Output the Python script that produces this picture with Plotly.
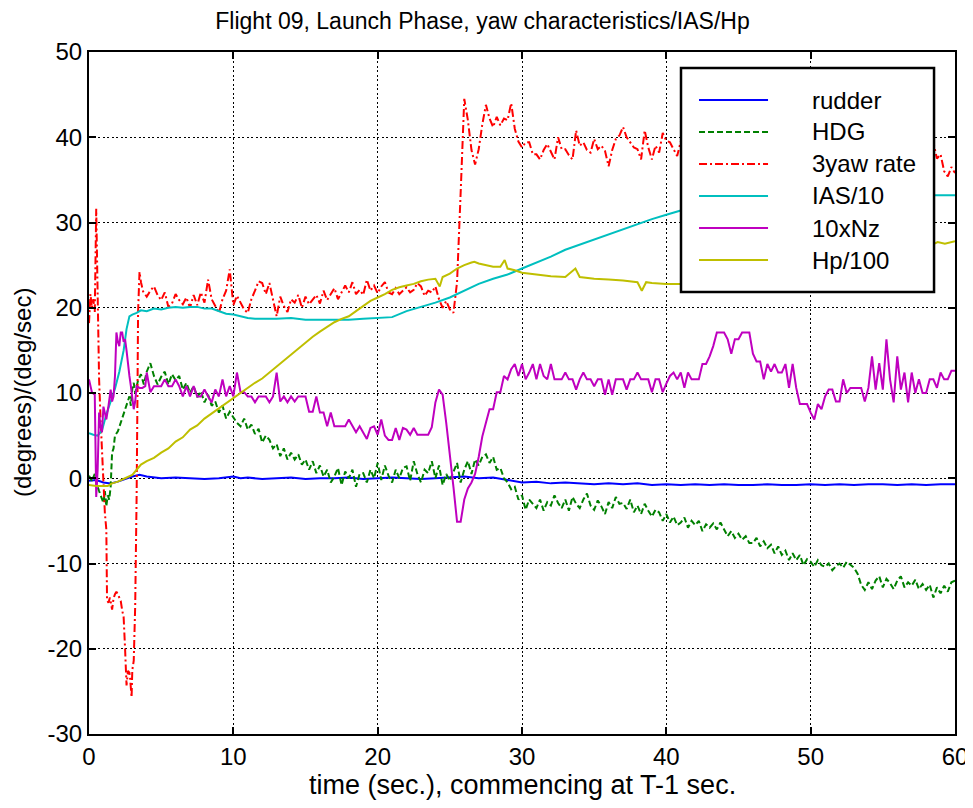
import plotly.graph_objects as go

# ---------------- data ----------------
x_ticks = [0, 10, 20, 30, 40, 50, 60]
y_ticks = [-30, -20, -10, 0, 10, 20, 30, 40, 50]
legend_names = ["rudder", "HDG", "3yaw rate", "IAS/10", "10xNz", "Hp/100"]

rudder_t = [0, 0.5, 1, 1.5, 2, 2.5, 3, 3.5, 4, 5, 6, 7, 8, 9, 10, 10.5, 11, 12, 13, 14, 15, 16, 17, 18, 19, 20,
            21, 22, 23, 24, 25, 26, 27, 28, 29, 30, 31, 32, 33, 34, 35, 36, 37, 38, 39, 40, 41, 42, 43, 44, 45,
            46, 47, 48, 49, 50, 51, 52, 53, 54, 55, 56, 57, 58, 59, 60]
rudder_v = [-0.3, -0.2, -0.5, -0.6, -0.4, -0.1, 0.2, 0.4, 0.2, 0.0, 0.1, 0.0, -0.1, 0.0, 0.2, 0.0, 0.1, -0.1, 0.0,
            0.1, -0.1, 0.0, 0.0, 0.1, -0.1, 0.0, 0.1, 0.0, -0.1, 0.0, 0.1, 0.2, 0.0, 0.1, -0.2, -0.5, -0.4, -0.6,
            -0.5, -0.6, -0.7, -0.6, -0.7, -0.6, -0.8, -0.7, -0.8, -0.7, -0.8, -0.7, -0.8, -0.8, -0.7, -0.8, -0.8,
            -0.7, -0.8, -0.7, -0.8, -0.7, -0.7, -0.8, -0.7, -0.8, -0.7, -0.7]

hdg_t_early = [0.0, 0.2, 0.4, 0.5, 0.7, 0.9, 1.0, 1.1, 1.2, 1.3, 1.4, 1.5, 1.6, 1.7, 1.8, 2.0, 2.2, 2.3, 2.5, 2.7,
               2.8, 2.9, 3.0, 3.1, 3.2, 3.4, 3.6, 3.8]
hdg_v_early = [0.3, -0.3, 0.5, -0.5, -1.5, -2.5, -2.9, -1.5, -3.3, -2.0, -2.5, -1.0, 3.0, 3.5, 5.0, 5.5, 6.5, 6.9,
               8.0, 9.0, 9.6, 8.5, 10.5, 11.2, 10.0, 11.5, 12.2, 11.0]
hdg_rows = [  # one row per second (4 ... 59), samples every 0.25 s
    [12.5, 13.5, 12.0, 11.0], [11.9, 12.5, 11.0, 12.2], [11.5, 12.0, 10.4, 11.2], [10.0, 10.8, 9.5, 10.2],
    [8.9, 9.8, 8.5, 9.0], [7.7, 8.5, 7.0, 7.8], [7.2, 6.5, 6.1, 7.0], [5.7, 6.3, 5.2, 5.8],
    [4.2, 5.0, 4.5, 3.5], [4.0, 2.6, 3.5, 2.2], [3.0, 2.2, 2.8, 1.6], [2.2, 1.0, 2.0, 0.6],
    [1.5, 0.2, 1.0, -0.5], [0.2, 1.2, -0.8, 0.8], [0.0, 1.0, -1.0, 0.5], [0.6, -0.5, 1.0, 0.0],
    [1.8, -0.2, 1.5, 0.3], [-0.5, 1.0, 0.0, 1.2], [1.4, -0.3, 2.0, 0.5], [-0.5, 1.0, 0.6, 2.0],
    [0.0, 1.5, -0.8, 0.5], [-0.3, 0.8, 1.8, -0.5], [1.0, 2.0, 0.5, 2.2], [1.5, 2.5, 2.8, 1.8],
    [2.5, 1.0, 1.2, 0.0], [-0.5, -1.3, -1.0, -2.5], [-2.0, -3.7, -2.5, -3.0], [-3.5, -2.5, -3.8, -2.8],
    [-3.2, -2.0, -2.9, -3.5], [-2.5, -3.8, -2.2, -3.0], [-3.5, -2.5, -1.8, -3.2], [-3.7, -2.6, -3.3, -4.2],
    [-2.8, -3.5, -2.2, -3.0], [-2.9, -3.6, -2.5, -4.0], [-3.2, -4.2, -3.0, -3.8], [-4.5, -3.7, -4.0, -5.0],
    [-4.2, -5.2, -4.5, -5.5], [-5.2, -4.6, -5.8, -5.0], [-5.5, -5.0, -6.2, -5.4], [-5.8, -5.3, -6.0, -5.2],
    [-6.0, -6.8, -6.2, -7.0], [-6.5, -7.2, -6.8, -7.6], [-7.6, -7.0, -8.0, -7.4], [-8.2, -7.8, -8.8, -8.0],
    [-9.0, -8.5, -9.6, -8.8], [-9.6, -9.0, -10.2, -9.5], [-9.8, -10.4, -9.6, -10.2], [-10.4, -10.0, -10.8, -10.3],
    [-10.0, -10.5, -9.8, -10.2], [-10.5, -11.2, -12.5, -13.1], [-12.2, -13.0, -12.0, -11.5], [-12.8, -11.8, -12.3, -13.0],
    [-12.0, -11.5, -12.8, -12.2], [-12.6, -11.9, -13.0, -12.4], [-13.1, -12.5, -14.0, -12.8], [-13.5, -12.6, -13.3, -12.2],
]
hdg_last = -12.0

yaw_t_early = [0.0, 0.1, 0.2, 0.3, 0.4, 0.5, 0.6, 0.7, 0.8, 0.9, 1.0, 1.1, 1.2, 1.25, 1.35, 1.45, 1.6, 1.7, 1.8,
               1.9, 2.0, 2.1, 2.2, 2.3, 2.4, 2.5, 2.55, 2.6, 2.7, 2.8, 2.85, 2.95, 3.0, 3.1, 3.2, 3.25, 3.3,
               3.35, 3.4, 3.5, 3.6, 3.75, 3.9]
yaw_v_early = [18.2, 21.6, 20.0, 21.0, 19.5, 31.6, 21.6, 11.6, 7.0, 3.0, 0.5, -4.1, -6.0, -14.3, -14.6, -14.0,
               -15.4, -14.1, -13.6, -13.3, -13.6, -14.1, -14.4, -15.5, -16.3, -20.0, -22.9, -24.3, -22.6, -22.8,
               -23.5, -25.7, -22.5, -21.4, -15.0, -10.0, -2.0, 8.0, 19.5, 24.2, 23.0, 21.9, 21.5]
yaw_rows = [  # one row per second (4 ... 59), samples every 0.25 s
    [21.3, 22.0, 22.5, 21.5], [20.9, 21.8, 20.1, 20.5], [21.6, 20.9, 20.4, 21.2], [20.0, 21.5, 20.3, 21.8],
    [20.6, 23.3, 21.0, 20.2], [19.4, 21.0, 22.0, 24.5], [20.3, 21.4, 20.6, 19.8], [19.4, 21.0, 22.0, 23.1],
    [22.9, 21.6, 22.9, 21.0], [19.0, 21.3, 20.2, 19.5], [21.0, 20.6, 21.5, 20.0], [21.3, 20.4, 21.0, 21.5],
    [20.5, 22.0, 20.9, 21.6], [22.3, 21.0, 21.8, 22.6], [21.8, 23.0, 21.6, 22.1], [21.5, 23.3, 22.0, 22.6],
    [21.7, 22.5, 23.0, 21.8], [21.6, 22.3, 21.6, 22.0], [22.4, 21.8, 22.1, 22.9], [22.5, 21.4, 22.0, 21.8],
    [22.5, 21.0, 20.0, 20.8], [19.8, 19.4, 23.0, 33.5], [44.5, 42.0, 38.5, 36.8], [38.6, 41.5, 43.8, 42.2],
    [41.2, 42.4, 41.4, 42.2], [42.0, 44.0, 41.0, 39.5], [38.8, 39.4, 39.4, 38.0], [38.0, 37.4, 38.5, 39.2],
    [38.2, 37.4, 40.0, 38.6], [38.6, 37.9, 37.4, 40.8], [39.0, 39.4, 38.5, 38.2], [39.8, 38.6, 39.0, 38.4],
    [36.6, 38.5, 39.8, 40.2], [41.2, 40.0, 39.4, 38.8], [38.6, 37.4, 40.8, 38.8], [37.4, 39.0, 38.2, 40.5],
    [39.6, 39.4, 38.6, 37.8], [39.5, 38.5, 40.0, 39.0], [38.2, 39.6, 38.8, 40.1], [39.2, 38.0, 39.5, 38.7],
    [40.0, 38.9, 39.3, 38.1], [39.4, 40.2, 38.6, 39.1], [38.3, 39.7, 38.9, 40.0], [39.0, 38.2, 39.6, 38.8],
    [39.9, 38.5, 39.2, 38.0], [38.8, 39.5, 38.3, 39.4], [38.6, 39.8, 38.1, 39.0], [39.5, 38.4, 39.9, 38.7],
    [38.9, 39.6, 38.2, 39.3], [39.8, 38.6, 39.4, 38.5], [39.2, 40.0, 38.7, 39.5], [38.4, 39.3, 38.8, 39.9],
    [39.0, 38.3, 39.7, 38.6], [39.4, 38.9, 40.1, 39.2], [38.5, 39.0, 39.4, 37.5], [38.0, 36.0, 35.4, 36.5],
]
yaw_last = 35.8

ias_t = [0, 0.3, 0.6, 0.9, 1.2, 1.5, 1.8, 2.1, 2.4, 2.6, 2.8, 3.0, 3.3, 3.6, 4, 4.5, 5, 5.5, 6, 6.5, 7, 7.5, 8,
         8.5, 9, 9.5, 10, 10.5, 11, 11.5, 12, 13, 14, 15, 16, 17, 18, 19, 20, 21, 22, 23, 24, 25, 26, 27, 28,
         29, 30, 31, 32, 33, 34, 35, 36, 37, 38, 39, 40, 41, 42, 43, 44, 45, 46, 48, 50, 52, 54, 56, 58, 60]
ias_v = [5.3, 5.1, 5.0, 5.6, 7.5, 9.0, 10.5, 12.5, 15.0, 17.5, 19.0, 19.2, 19.4, 19.7, 19.6, 19.9, 19.8, 20.0,
         20.1, 20.0, 20.1, 20.1, 19.9, 19.9, 19.6, 19.3, 19.2, 19.0, 18.8, 18.7, 18.7, 18.7, 18.8, 18.6, 18.6,
         18.6, 18.6, 18.7, 18.8, 18.9, 19.6, 20.1, 20.6, 21.2, 22.0, 22.8, 23.4, 23.9, 24.6, 25.3, 26.0, 26.8,
         27.4, 28.0, 28.6, 29.2, 29.8, 30.4, 30.9, 31.4, 31.9, 32.3, 32.7, 33.0, 33.2, 33.2, 33.2, 33.2, 33.2,
         33.2, 33.2, 33.2]

nz_t_early = [0.0, 0.1, 0.2, 0.4, 0.5, 0.6, 0.7, 0.8, 0.9, 1.0, 1.1, 1.2, 1.35, 1.5, 1.6, 1.7, 1.8, 1.9, 2.0,
              2.1, 2.2, 2.3, 2.4, 2.5, 2.6, 2.7, 2.8, 2.9, 3.0, 3.1, 3.2, 3.3, 3.5, 3.7, 3.9]
nz_v_early = [11.6, 11.0, 10.1, 9.8, -2.2, 1.0, 7.7, 6.0, 5.4, 8.4, 7.5, 6.9, 8.5, 10.4, 9.0, 9.6, 12.0, 17.1,
              16.0, 15.5, 17.1, 17.1, 16.0, 16.3, 15.0, 13.1, 12.0, 10.8, 9.5, 8.1, 9.0, 10.8, 10.6, 10.6, 10.8]
nz_rows = [  # one row per second (4 ... 59), samples every 0.25 s
    [12.4, 10.1, 10.8, 10.8], [10.8, 11.6, 10.8, 10.8], [11.6, 10.8, 9.6, 10.8], [9.6, 10.8, 9.6, 9.6],
    [10.4, 9.6, 8.9, 10.4], [9.6, 11.6, 9.6, 10.8], [9.6, 12.4, 10.1, 10.1], [9.6, 9.6, 8.9, 9.6],
    [9.6, 9.6, 8.9, 9.6], [12.4, 9.0, 9.6, 8.9], [9.6, 9.0, 9.6, 9.6], [9.6, 7.8, 7.8, 9.6],
    [7.7, 7.7, 6.1, 7.7], [6.1, 6.1, 6.1, 6.1], [6.9, 6.1, 5.4, 6.1], [5.4, 4.6, 5.9, 6.1],
    [5.1, 6.9, 5.0, 4.5], [4.5, 5.9, 4.5, 5.9], [5.7, 5.1, 5.9, 5.1], [5.1, 5.1, 5.1, 6.0],
    [8.9, 10.4, 9.8, 6.5], [3.0, -1.0, -5.1, -5.1], [-2.5, -1.2, -0.5, 0.5], [2.5, 4.9, 6.5, 8.1],
    [8.1, 10.1, 10.1, 12.0], [11.6, 12.8, 13.4, 12.0], [13.4, 11.6, 12.4, 13.4], [11.6, 13.4, 12.0, 11.6],
    [13.4, 11.6, 11.6, 11.6], [12.4, 11.6, 11.6, 10.4], [11.6, 12.4, 11.6, 11.6], [10.8, 11.6, 11.6, 9.8],
    [11.6, 9.8, 11.6, 11.6], [11.6, 10.4, 11.6, 11.6], [12.4, 11.6, 11.6, 11.6], [10.1, 11.6, 11.6, 10.1],
    [11.1, 12.0, 12.4, 11.6], [12.4, 10.6, 12.4, 11.6], [11.6, 11.6, 13.4, 13.4], [14.3, 15.5, 17.1, 17.1],
    [17.1, 16.3, 14.6, 16.3], [16.3, 17.1, 17.1, 17.1], [14.6, 13.7, 13.7, 11.6], [13.4, 12.5, 13.4, 12.4],
    [12.4, 13.4, 10.6, 13.4], [10.6, 8.7, 8.7, 8.7], [7.7, 6.9, 8.7, 8.1], [9.6, 10.4, 10.4, 9.0],
    [9.0, 11.6, 10.0, 10.6], [10.6, 10.6, 10.6, 9.0], [10.6, 14.3, 10.4, 13.5], [10.4, 16.3, 11.6, 8.9],
    [14.3, 10.4, 12.4, 8.9], [12.4, 10.0, 11.6, 10.0], [10.0, 11.6, 11.6, 10.6], [12.4, 11.6, 11.6, 12.6],
]
nz_last = 12.6

hp_t = [0, 0.5, 1.0, 1.3, 1.6, 2.0, 2.5, 3.0, 3.3, 3.6, 4.0, 4.5, 5, 5.5, 6, 6.5, 7, 7.5, 8, 8.5, 9, 9.5, 10,
        10.5, 11, 11.5, 12, 12.5, 13, 13.5, 14, 14.5, 15, 15.5, 16, 16.5, 17, 17.5, 18, 18.5, 19, 19.5, 20,
        20.5, 21, 21.5, 22, 22.5, 23, 23.5, 24, 24.3, 24.5, 25, 25.5, 26, 26.5, 26.7, 27, 27.5, 28, 28.5, 28.8,
        29, 29.5, 30, 31, 32, 33, 33.7, 34, 35, 36, 37, 38, 38.3, 38.6, 39, 40, 41, 43, 45, 47, 49, 51, 53, 55,
        57, 58.3, 58.8, 59.3, 60]
hp_v = [-0.8, -0.9, -0.9, -0.9, -0.6, -0.4, 0.0, 0.4, 1.0, 1.6, 2.0, 2.4, 3.0, 3.5, 4.3, 4.8, 5.7, 6.2, 7.0,
        7.6, 8.2, 8.8, 9.3, 10.0, 10.6, 11.2, 11.7, 12.4, 13.2, 13.8, 14.5, 15.2, 15.9, 16.6, 17.2, 17.8, 18.3,
        18.7, 19.0, 19.6, 20.2, 20.8, 21.2, 21.6, 22.1, 22.4, 22.6, 22.8, 23.1, 23.3, 23.4, 22.5, 23.6, 24.0,
        24.6, 25.0, 25.3, 25.4, 25.2, 25.0, 24.8, 24.8, 25.6, 24.6, 24.4, 24.1, 23.9, 23.7, 23.6, 24.6, 23.6,
        23.4, 23.3, 23.2, 23.0, 22.0, 23.0, 22.9, 22.8, 22.8, 22.9, 23.1, 23.5, 24.1, 24.8, 25.5, 26.2, 26.9,
        27.3, 27.7, 27.5, 27.8]


def assemble(t_early, v_early, rows, last, start=4, step=0.25):
    t, v = list(t_early), list(v_early)
    for i, row in enumerate(rows):
        for j, val in enumerate(row):
            t.append(start + i + j * step)
            v.append(val)
    t.append(start + len(rows))
    v.append(last)
    return t, v


hdg_t, hdg_v = assemble(hdg_t_early, hdg_v_early, hdg_rows, hdg_last)
yaw_t, yaw_v = assemble(yaw_t_early, yaw_v_early, yaw_rows, yaw_last)
nz_t, nz_v = assemble(nz_t_early, nz_v_early, nz_rows, nz_last)

# ---------------- styling ----------------
FONT = "Liberation Sans, Arial, Helvetica, sans-serif"
colors = ["#0000FF", "#008000", "#FF0000", "#00BFBF", "#BF00BF", "#BFBF00"]
dashes = ["solid", "6px,3px", "8px,3px,2px,3px", "solid", "solid", "solid"]
series = [(rudder_t, rudder_v), (hdg_t, hdg_v), (yaw_t, yaw_v), (ias_t, ias_v), (nz_t, nz_v), (hp_t, hp_v)]

fig = go.Figure()
for (t, v), name, c, d in zip(series, legend_names, colors, dashes):
    fig.add_trace(go.Scatter(x=t, y=v, mode="lines", name=name, showlegend=False,
                             line=dict(color=c, width=2, dash=d)))

axis_common = dict(showline=True, linecolor="black", linewidth=2, mirror="ticks", ticks="inside",
                   ticklen=7, tickwidth=2, tickcolor="black", showgrid=True, gridcolor="black",
                   gridwidth=1.2, griddash="2px,2.5px", zeroline=False, automargin=False,
                   tickfont=dict(family=FONT, size=24, color="black"))

fig.update_xaxes(range=[0, 60], tickvals=x_ticks, ticktext=[str(v) for v in x_ticks], **axis_common)
fig.update_yaxes(range=[-30, 50], tickvals=y_ticks, ticktext=[str(v) for v in y_ticks], **axis_common)

# legend box (MATLAB style) drawn in paper coordinates
shapes = [dict(type="rect", xref="paper", yref="paper", x0=0.6836, x1=0.9758, y0=0.6481, y1=0.9765,
               fillcolor="white", line=dict(color="black", width=2.5), layer="above")]
annotations = []
row_y = [0.9296, 0.8827, 0.8358, 0.7889, 0.7419, 0.6950]
for name, c, d, yy in zip(legend_names, colors, dashes, row_y):
    shapes.append(dict(type="line", xref="paper", yref="paper", x0=0.7044, x1=0.7841, y0=yy, y1=yy,
                       line=dict(color=c, width=2, dash=d), layer="above"))
    annotations.append(dict(xref="paper", yref="paper", x=0.8326, y=yy, text=name, showarrow=False,
                            xanchor="left", yanchor="middle", font=dict(family=FONT, size=24, color="black")))

annotations.append(dict(xref="paper", yref="paper", x=0.5, y=0, yshift=-51, text="time (sec.), commencing at T-1 sec.",
                        showarrow=False, xanchor="center", yanchor="middle",
                        font=dict(family=FONT, size=27, color="black")))
annotations.append(dict(xref="paper", yref="paper", x=0, y=0.5, xshift=-67, text="(degrees)/(deg/sec)",
                        showarrow=False, xanchor="center", yanchor="middle", textangle=-90,
                        font=dict(family=FONT, size=24, color="black")))

# the page body has an 8 px margin, so the figure is sized and placed to compensate
fig.update_layout(
    width=965, height=800,
    margin=dict(l=81, r=18, t=44, b=74, pad=0),
    paper_bgcolor="white", plot_bgcolor="white",
    title=dict(text="Flight 09, Launch Phase, yaw characteristics/IAS/Hp", x=0.5 - 8 / 965, xref="container",
               y=1 - 13 / 800, yref="container", xanchor="center", yanchor="middle",
               font=dict(family=FONT, size=23, color="black")),
    shapes=shapes, annotations=annotations, showlegend=False,
)

fig.write_html("out.html")
